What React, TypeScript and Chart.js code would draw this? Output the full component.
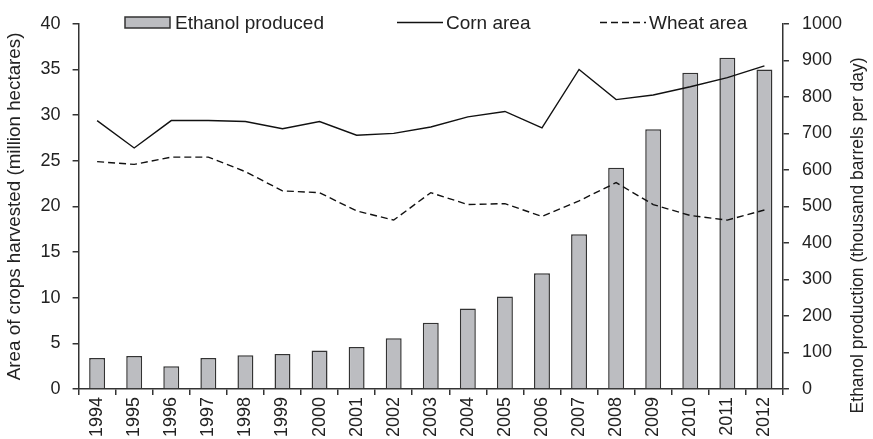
import { useEffect, useRef } from 'react';
import { Chart, registerables } from 'chart.js';

Chart.register(...registerables);

const FONT = '"Liberation Sans", Arial, Helvetica, sans-serif';

const YEARS = ['1994', '1995', '1996', '1997', '1998', '1999', '2000', '2001', '2002', '2003', '2004', '2005', '2006', '2007', '2008', '2009', '2010', '2011', '2012'];
const ETHANOL = [85, 90, 62, 85, 92, 96, 105, 115, 139, 181, 220, 253, 317, 424, 606, 711, 866, 907, 875];
const CORN = [29.4, 26.4, 29.4, 29.4, 29.3, 28.5, 29.3, 27.8, 28.0, 28.7, 29.8, 30.4, 28.6, 35.0, 31.7, 32.2, 33.1, 34.1, 35.4];
const WHEAT = [24.9, 24.6, 25.4, 25.4, 23.8, 21.7, 21.5, 19.5, 18.5, 21.5, 20.2, 20.3, 18.9, 20.6, 22.6, 20.2, 19.0, 18.5, 19.6];
const LEFT_TICKS_MAX = 40;
const RIGHT_TICKS_MAX = 1000;

const LEFT_TITLE = 'Area of crops harvested (million hectares)';
const RIGHT_TITLE = 'Ethanol production (thousand barrels per day)';

const AXIS_COLOR = '#333333';
const TEXT_COLOR = '#222222';

const LEGEND_X = [125, 397, 600];
const LEGEND_Y = 22.5;

const customPlugin = {
  id: 'customDecor',
  afterDraw(chart: any) {
    const ctx = chart.ctx as CanvasRenderingContext2D;
    const area = chart.chartArea;
    ctx.save();
    // legend
    ctx.font = `19px ${FONT}`;
    ctx.textBaseline = 'middle';
    ctx.textAlign = 'left';
    chart.data.datasets.forEach((ds: any, i: number) => {
      const x = LEGEND_X[i];
      const y = LEGEND_Y;
      let textX;
      if (ds.type === 'bar') {
        ctx.fillStyle = ds.backgroundColor;
        ctx.fillRect(x, y - 5.5, 45, 11);
        ctx.strokeStyle = ds.borderColor;
        ctx.lineWidth = 1.5;
        ctx.strokeRect(x, y - 5.5, 45, 11);
        textX = x + 50;
      } else {
        ctx.strokeStyle = ds.borderColor;
        ctx.lineWidth = ds.borderWidth;
        ctx.setLineDash(ds.borderDash || []);
        ctx.beginPath();
        ctx.moveTo(x, y);
        ctx.lineTo(x + 46, y);
        ctx.stroke();
        ctx.setLineDash([]);
        textX = x + 49;
      }
      ctx.fillStyle = TEXT_COLOR;
      ctx.fillText(ds.label, textX, y + 1);
    });
    // right axis title, reading bottom to top
    const cy = (area.top + area.bottom) / 2 + 29;
    ctx.translate(858, cy);
    ctx.rotate(-Math.PI / 2);
    ctx.font = `17.5px ${FONT}`;
    ctx.textAlign = 'center';
    ctx.textBaseline = 'middle';
    ctx.fillStyle = TEXT_COLOR;
    ctx.fillText(RIGHT_TITLE, 0, 0);
    ctx.restore();
  },
};

export default function App() {
  const ref = useRef<HTMLCanvasElement | null>(null);

  useEffect(() => {
    if (!ref.current) return;
    Chart.defaults.font.family = FONT;
    const chart = new Chart(ref.current, {
      type: 'bar',
      data: {
        labels: YEARS,
        datasets: [
          {
            type: 'bar',
            label: 'Ethanol produced',
            data: ETHANOL,
            yAxisID: 'y1',
            backgroundColor: '#bcbdc1',
            borderColor: '#333333',
            borderWidth: 1.5,
            barPercentage: 0.43,
            categoryPercentage: 1,
            order: 2,
          } as any,
          {
            type: 'line',
            label: 'Corn area',
            data: CORN,
            yAxisID: 'y',
            borderColor: '#111111',
            borderWidth: 1.4,
            pointRadius: 0,
            tension: 0,
            fill: false,
            order: 1,
          } as any,
          {
            type: 'line',
            label: 'Wheat area',
            data: WHEAT,
            yAxisID: 'y',
            borderColor: '#111111',
            borderWidth: 1.4,
            borderDash: [7, 4],
            pointRadius: 0,
            tension: 0,
            fill: false,
            order: 1,
          } as any,
        ],
      },
      options: {
        responsive: true,
        maintainAspectRatio: false,
        animation: false,
        layout: { padding: { top: 18, left: 4, right: 18, bottom: 0 } },
        plugins: { legend: { display: false }, tooltip: { enabled: false } },
        scales: {
          x: {
            type: 'category',
            offset: true,
            grid: { drawOnChartArea: false, drawTicks: true, tickLength: 6, color: AXIS_COLOR, offset: true, lineWidth: 1.5 },
            border: { display: true, color: AXIS_COLOR, width: 1.5 },
            ticks: { minRotation: 90, maxRotation: 90, autoSkip: false, padding: 2, color: TEXT_COLOR, font: { size: 18, family: FONT } },
          },
          y: {
            position: 'left',
            min: 0,
            max: LEFT_TICKS_MAX,
            grid: { drawOnChartArea: false, drawTicks: true, tickLength: 6, color: AXIS_COLOR, lineWidth: 1.5 },
            border: { display: true, color: AXIS_COLOR, width: 1.5 },
            ticks: { stepSize: 5, padding: 12, color: TEXT_COLOR, font: { size: 18, family: FONT } },
            title: { display: true, text: LEFT_TITLE, color: TEXT_COLOR, font: { size: 18.8, family: FONT }, padding: { top: 0, bottom: 2 } },
          },
          y1: {
            position: 'right',
            min: 0,
            max: RIGHT_TICKS_MAX,
            grid: { drawOnChartArea: false, drawTicks: true, tickLength: 6, color: AXIS_COLOR, lineWidth: 1.5 },
            border: { display: true, color: AXIS_COLOR, width: 1.5 },
            ticks: {
              stepSize: 100,
              padding: 13,
              color: TEXT_COLOR,
              font: { size: 18, family: FONT },
              callback: (v: any) => String(v),
            },
          },
        },
      },
      plugins: [customPlugin],
    });
    return () => chart.destroy();
  }, []);

  return (
    <div style={{ position: 'fixed', left: 0, top: 0, width: 873, height: 439 }}>
      <canvas ref={ref} />
    </div>
  );
}
